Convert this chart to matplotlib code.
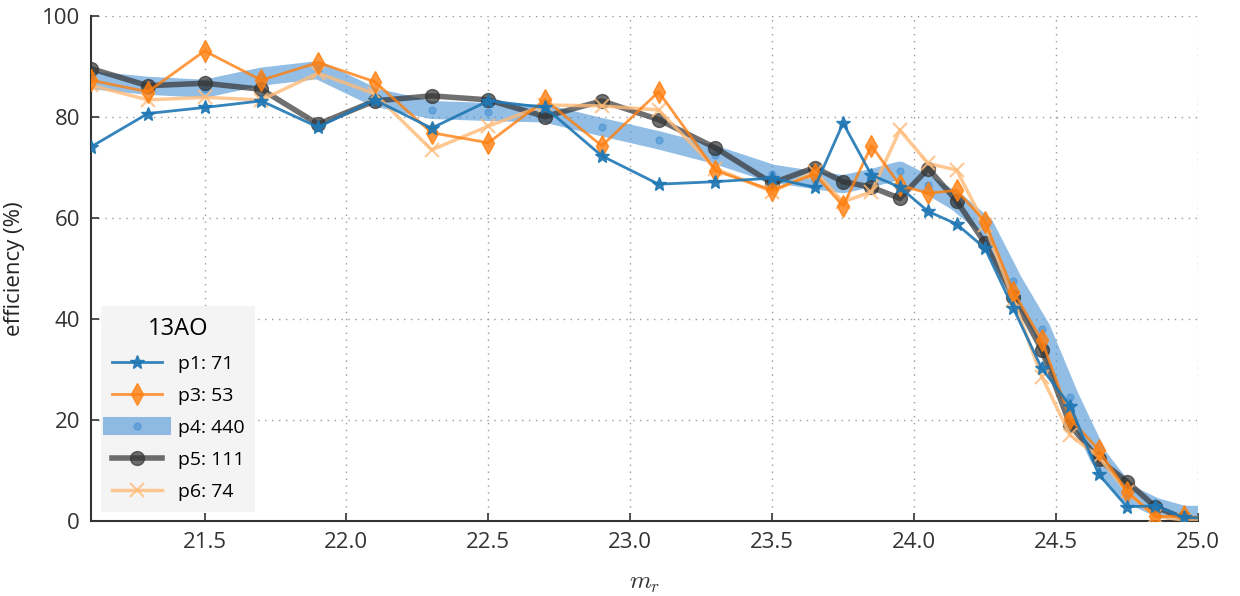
import matplotlib
matplotlib.use('Agg')
import matplotlib.pyplot as plt

plt.rcParams['font.family'] = ['Open Sans', 'DejaVu Sans']
plt.rcParams['mathtext.fontset'] = 'cm'

# magnitude bin centres
mag = [21.1, 21.3, 21.5, 21.7, 21.9, 22.1, 22.3, 22.5, 22.7, 22.9, 23.1, 23.3, 23.5,
       23.65, 23.75, 23.85, 23.95, 24.05, 24.15, 24.25, 24.35, 24.45, 24.55, 24.65,
       24.75, 24.85, 24.95, 25.05]

# efficiency (%) per pointing
p1 = [74.1, 80.7, 81.9, 83.2, 78.0, 83.4, 77.8, 83.2, 81.9, 72.3, 66.7, 67.2, 67.9,
      66.1, 78.8, 68.5, 66.1, 61.3, 58.8, 54.0, 42.1, 30.2, 22.8, 9.3, 2.8, 3.0, 0.7, 0.5]
p3 = [87.3, 85.0, 93.1, 87.3, 90.8, 87.0, 76.9, 74.9, 83.4, 74.3, 85.0, 69.4, 65.5,
      68.7, 62.4, 74.3, 66.5, 64.9, 65.5, 59.3, 45.4, 35.8, 20.3, 14.1, 5.8, 0.9, 0.9, 0.5]
p4 = [87.3, 86.2, 85.6, 88.0, 89.3, 83.9, 81.4, 81.0, 80.7, 78.0, 75.4, 72.5, 68.8,
      67.5, 66.7, 67.9, 69.4, 66.5, 63.2, 58.5, 47.5, 38.0, 24.5, 12.7, 5.5, 2.8, 1.2, 1.2]
p5 = [89.6, 86.2, 86.7, 85.5, 78.6, 83.2, 84.2, 83.4, 80.1, 83.2, 79.5, 73.9, 66.9,
      70.0, 67.2, 66.1, 63.9, 69.8, 63.4, 55.0, 44.4, 33.9, 19.0, 12.2, 7.8, 2.8, 0.5, 0.3]
p6 = [86.3, 83.4, 83.9, 83.4, 88.7, 84.6, 73.5, 78.2, 82.4, 82.2, 81.4, 69.8, 65.2,
      69.2, 63.2, 65.2, 77.4, 70.8, 69.5, 58.6, 43.8, 28.6, 17.0, 12.7, 5.8, 0.9, 0.2, 0.2]

labels = ['p1: 71', 'p3: 53', 'p4: 440', 'p5: 111', 'p6: 74']

fig = plt.figure(figsize=(12.4, 5.96), dpi=100)
ax = fig.add_axes([0.0734, 0.126, 0.8926, 0.847])

ax.plot(mag, p1, color='#1f77b4', alpha=0.9, lw=2, marker='*', ms=10, label=labels[0], zorder=5)
ax.plot(mag, p3, color='#ff7f0e', alpha=0.8, lw=2, marker='d', ms=11, label=labels[1], zorder=4)
ax.plot(mag, p4, color='#4a93d4', alpha=0.6, lw=13, marker='o', ms=5, label=labels[2],
        solid_joinstyle='round', zorder=2)
ax.plot(mag, p5, color='#333333', alpha=0.7, lw=4, marker='o', ms=10, label=labels[3], zorder=3)
ax.plot(mag, p6, color='#ffbb78', alpha=0.8, lw=2.5, marker='x', ms=10, mew=1.5, label=labels[4], zorder=3)

ax.set_xlim(21.1, 25.0)
ax.set_ylim(0, 100)
ax.set_xticks([21.5, 22.0, 22.5, 23.0, 23.5, 24.0, 24.5, 25.0])
ax.set_yticks([0, 20, 40, 60, 80, 100])
ax.grid(True, linestyle=(0, (1, 4)), color='#999999', lw=1)
for s in ['top', 'right']:
    ax.spines[s].set_visible(False)
for s in ['left', 'bottom']:
    ax.spines[s].set_color('#333333')
    ax.spines[s].set_linewidth(1.5)
ax.tick_params(direction='in', length=6, width=1.2, colors='#333333', labelsize=16, pad=8)

ax.set_xlabel('$m_r$', fontsize=18, color='#333333', labelpad=12)
ax.set_ylabel('efficiency (%)', fontsize=16, color='#222222', labelpad=12)

leg = ax.legend(title='13AO', loc='lower left', bbox_to_anchor=(0.009, 0.018), fontsize=14,
                title_fontsize=17, frameon=True, fancybox=False, facecolor='#f4f4f4',
                edgecolor='none', framealpha=1, borderaxespad=0, handlelength=2.6,
                labelspacing=0.72, borderpad=0.55)

fig.savefig('out.png', dpi=100)
